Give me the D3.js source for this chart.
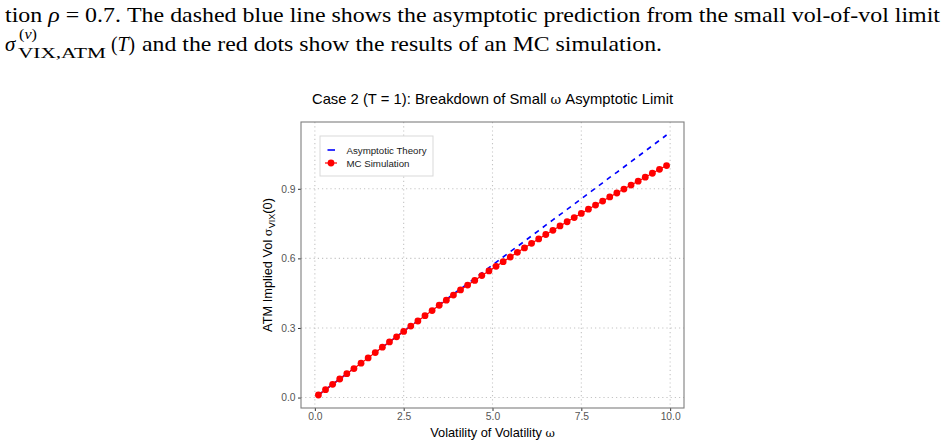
<!DOCTYPE html>
<html>
<head>
<meta charset="utf-8">
<script src="https://cdn.jsdelivr.net/npm/d3@7"></script>
<style>
  body { margin: 0; background: #fff; }
  svg text { font-family: "Liberation Sans", Arial, sans-serif; }
  .tex { font-family: "Liberation Serif", "DejaVu Serif", serif; fill: #000; }
</style>
</head>
<body>
<div id="page"></div>
<script>
// omega grid used for both curves
const omega = [0.1, 0.3, 0.5, 0.7, 0.9, 1.1, 1.3, 1.5, 1.7, 1.9,
  2.1, 2.3, 2.5, 2.7, 2.9, 3.1, 3.3, 3.5, 3.7, 3.9,
  4.1, 4.3, 4.5, 4.7, 4.9, 5.1, 5.3, 5.5, 5.7, 5.9,
  6.1, 6.3, 6.5, 6.7, 6.9, 7.1, 7.3, 7.5, 7.7, 7.9,
  8.1, 8.3, 8.5, 8.7, 8.9, 9.1, 9.3, 9.5, 9.7, 9.9]

// asymptotic theory (dashed blue)
const asymVol = [0.011, 0.034, 0.057, 0.080, 0.103, 0.126, 0.149, 0.171, 0.194, 0.217,
  0.240, 0.263, 0.286, 0.309, 0.331, 0.354, 0.377, 0.400, 0.423, 0.446,
  0.469, 0.491, 0.514, 0.537, 0.560, 0.583, 0.606, 0.629, 0.651, 0.674,
  0.697, 0.720, 0.743, 0.766, 0.789, 0.811, 0.834, 0.857, 0.880, 0.903,
  0.926, 0.949, 0.971, 0.994, 1.017, 1.040, 1.063, 1.086, 1.109, 1.132]

// MC simulation (red dots)
const mcVol = [0.011, 0.034, 0.057, 0.080, 0.103, 0.125, 0.148, 0.171, 0.194, 0.217,
  0.240, 0.262, 0.285, 0.308, 0.330, 0.353, 0.375, 0.398, 0.420, 0.442,
  0.464, 0.485, 0.505, 0.526, 0.546, 0.566, 0.586, 0.606, 0.626, 0.645,
  0.665, 0.684, 0.703, 0.721, 0.740, 0.758, 0.776, 0.794, 0.812, 0.830,
  0.847, 0.865, 0.882, 0.899, 0.916, 0.933, 0.950, 0.967, 0.984, 1.000]

const xTicks = [0, 2.5, 5, 7.5, 10]
const yTicks = [0, 0.3, 0.6, 0.9]
const legendLabels = ["Asymptotic Theory", "MC Simulation"]

const W = 946, H = 446
const panel = {left: 301, right: 684, top: 122, bottom: 408}

const svg = d3.select("#page").append("svg")
  .attr("width", W).attr("height", H)

// ---- paper text above the figure
const l1 = svg.append("text").attr("class", "tex")
  .attr("x", 5).attr("y", 22).attr("font-size", 21)
  .attr("textLength", 935).attr("lengthAdjust", "spacingAndGlyphs")
l1.append("tspan").text("tion ")
l1.append("tspan").attr("font-style", "italic").text("ρ")
l1.append("tspan").text(" = 0.7. The dashed blue line shows the asymptotic prediction from the small vol-of-vol limit")

svg.append("text").attr("class", "tex").attr("x", 5).attr("y", 51)
  .attr("font-size", 21).attr("font-style", "italic").text("σ")
svg.append("text").attr("class", "tex").attr("x", 19).attr("y", 39)
  .attr("font-size", 15).attr("textLength", 18).attr("lengthAdjust", "spacingAndGlyphs")
  .html('(<tspan font-style="italic">v</tspan>)')
svg.append("text").attr("class", "tex").attr("x", 18).attr("y", 58)
  .attr("font-size", 15).attr("textLength", 88).attr("lengthAdjust", "spacingAndGlyphs")
  .text("VIX,ATM")
svg.append("text").attr("class", "tex").attr("x", 111).attr("y", 51)
  .attr("font-size", 21).attr("textLength", 24).attr("lengthAdjust", "spacingAndGlyphs")
  .html('(<tspan font-style="italic">T</tspan>)')
svg.append("text").attr("class", "tex").attr("x", 142).attr("y", 51)
  .attr("font-size", 21).attr("textLength", 520).attr("lengthAdjust", "spacingAndGlyphs")
  .text("and the red dots show the results of an MC simulation.")

// ---- scales (ggplot style 5% expansion)
const xExt = d3.extent(omega)
const xPad = (xExt[1] - xExt[0]) * 0.05
const x = d3.scaleLinear().domain([xExt[0] - xPad, xExt[1] + xPad])
  .range([panel.left, panel.right])

const yAll = asymVol.concat(mcVol)
const yExt = d3.extent(yAll)
const yPad = (yExt[1] - yExt[0]) * 0.05
const y = d3.scaleLinear().domain([yExt[0] - yPad, yExt[1] + yPad])
  .range([panel.bottom, panel.top])

// grid
const grid = svg.append("g")
grid.selectAll(".vg").data(xTicks).enter().append("line")
  .attr("x1", d => x(d)).attr("x2", d => x(d))
  .attr("y1", panel.top).attr("y2", panel.bottom)
  .attr("stroke", "#c4c4c4").attr("stroke-width", 1.1).attr("stroke-dasharray", "1.2,3")
grid.selectAll(".hg").data(yTicks).enter().append("line")
  .attr("x1", panel.left).attr("x2", panel.right)
  .attr("y1", d => y(d)).attr("y2", d => y(d))
  .attr("stroke", "#c4c4c4").attr("stroke-width", 1.1).attr("stroke-dasharray", "1.2,3")

// axes
const xAxis = svg.append("g").attr("transform", `translate(0,${panel.bottom})`)
  .call(d3.axisBottom(x).tickValues(xTicks).tickFormat(d3.format(".1f")).tickSize(3).tickPadding(2))
const yAxis = svg.append("g").attr("transform", `translate(${panel.left},0)`)
  .call(d3.axisLeft(y).tickValues(yTicks).tickFormat(d3.format(".1f")).tickSize(3).tickPadding(2.5))
for (const a of [xAxis, yAxis]) {
  a.select(".domain").remove()
  a.selectAll(".tick line").attr("stroke", "#333")
  a.selectAll(".tick text").attr("fill", "#555").attr("font-size", 10.3)
    .attr("font-family", "Liberation Sans, Arial, sans-serif")
}

// panel border
svg.append("rect")
  .attr("x", panel.left).attr("y", panel.top)
  .attr("width", panel.right - panel.left).attr("height", panel.bottom - panel.top)
  .attr("fill", "none").attr("stroke", "#7f7f7f").attr("stroke-width", 1.1)

// series
const asym = omega.map((w, i) => ({w, v: asymVol[i]}))
const mc = omega.map((w, i) => ({w, v: mcVol[i]}))
const line = d3.line().x(d => x(d.w)).y(d => y(d.v))

svg.append("path").datum(asym).attr("d", line)
  .attr("fill", "none").attr("stroke", "#0000ff").attr("stroke-width", 1.6)
  .attr("stroke-dasharray", "5,5")
svg.append("path").datum(mc).attr("d", line)
  .attr("fill", "none").attr("stroke", "#ff0000").attr("stroke-width", 1.2)
svg.append("g").selectAll("circle").data(mc).enter().append("circle")
  .attr("cx", d => x(d.w)).attr("cy", d => y(d.v)).attr("r", 3.4)
  .attr("fill", "#ff0000")

// legend
const lg = svg.append("g").attr("transform", "translate(320,136)")
lg.append("rect").attr("width", 113).attr("height", 40)
  .attr("fill", "#fff").attr("stroke", "#d9d9d9").attr("stroke-width", 1)
lg.append("line").attr("x1", 7.5).attr("x2", 15).attr("y1", 14).attr("y2", 14)
  .attr("stroke", "#0000ff").attr("stroke-width", 1.6)
lg.append("line").attr("x1", 5).attr("x2", 17).attr("y1", 27).attr("y2", 27)
  .attr("stroke", "#ff0000").attr("stroke-width", 1.2)
lg.append("circle").attr("cx", 11).attr("cy", 27).attr("r", 3.4).attr("fill", "#ff0000")
lg.selectAll(".lt").data(legendLabels).enter().append("text")
  .attr("x", 26.5).attr("y", (d, i) => 17.5 + i * 13)
  .attr("font-size", 9.7).attr("fill", "#1a1a1a").text(d => d)

// titles
const cx = (panel.left + panel.right) / 2
svg.append("text").attr("x", cx).attr("y", 104).attr("text-anchor", "middle")
  .attr("font-size", 14.8).attr("fill", "#000")
  .html('Case 2 (T = 1): Breakdown of Small <tspan font-family="DejaVu Serif, serif" font-size="13">ω</tspan> Asymptotic Limit')

svg.append("text").attr("x", cx).attr("y", 437).attr("text-anchor", "middle")
  .attr("font-size", 12.8).attr("fill", "#000")
  .html('Volatility of Volatility <tspan font-family="DejaVu Serif, serif" font-size="11.5">ω</tspan>')

svg.append("text")
  .attr("transform", `translate(272,${(panel.top + panel.bottom) / 2}) rotate(-90)`)
  .attr("text-anchor", "middle").attr("font-size", 12.8).attr("fill", "#000")
  .html('ATM Implied Vol <tspan font-family="DejaVu Serif, serif" font-size="11.5">σ</tspan><tspan font-size="9" dy="3">VIX</tspan><tspan dy="-3">(0)</tspan>')
</script>
</body>
</html>
